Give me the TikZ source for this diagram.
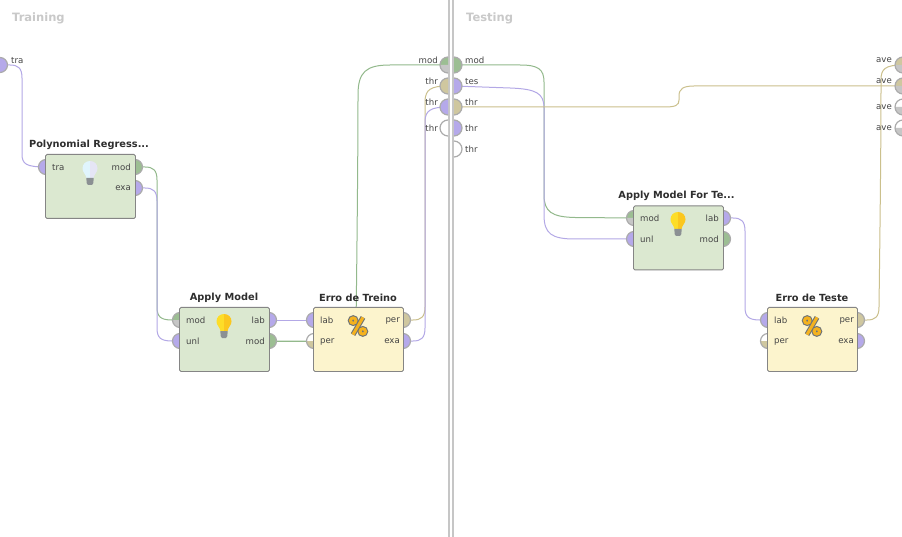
\documentclass[tikz,border=0pt]{standalone}
\usepackage{fontspec}
\setmainfont{DejaVu Sans}
\usetikzlibrary{backgrounds}
\definecolor{wpurple}{HTML}{B3A8E6}
\definecolor{wgreen}{HTML}{93B98C}
\definecolor{wtan}{HTML}{CBC08C}
\definecolor{pgray}{HTML}{C6C6C6}
\definecolor{pgreen}{HTML}{9CBE93}
\definecolor{ptan}{HTML}{CFC79F}
\definecolor{ppurple}{HTML}{B5A9EA}
\definecolor{ring}{HTML}{ABABAB}
\definecolor{boxgreen}{HTML}{DBE8D0}
\definecolor{boxyellow}{HTML}{FCF4CD}
\definecolor{boxedge}{HTML}{858585}
\definecolor{txt}{HTML}{444444}
\definecolor{ttl}{HTML}{2E2E2E}
\definecolor{headgray}{HTML}{C9C9C9}
\definecolor{dark}{HTML}{6E7478}
\definecolor{orng}{HTML}{F5B21E}
\tikzset{
  opbox/.style={draw=boxedge,line width=0.9pt,rounded corners=1.5pt,minimum width=90pt,minimum height=64pt,inner sep=0pt,anchor=north west},
  greenbox/.style={opbox,fill=boxgreen},
  yellowbox/.style={opbox,fill=boxyellow},
  title/.style={font=\bfseries\fontsize{9.8}{11}\selectfont,text=ttl,inner sep=0pt,anchor=center},
  plabel/.style={font=\fontsize{8.6}{10}\selectfont,text=txt,inner sep=0pt},
  lab w/.style={plabel,anchor=west},
  lab e/.style={plabel,anchor=east},
  head/.style={font=\bfseries\fontsize{11.5}{13}\selectfont,text=headgray,inner sep=0pt,anchor=west},
  wire/.style={line width=1pt},
  divider/.style={draw=pgray,line width=2pt}
}
% name, x, y, top colour, bottom colour, side (1 bulges left, -1 bulges right), radius
\newcommand{\portshape}[7]{%
  \begin{scope}[shift={(#2,#3)},xscale=#6]
    \fill[#4] (0,0) -- (0,-#7) .. controls (-0.55*#7,-#7) and (-#7,-0.55*#7) .. (-#7,0) -- cycle;
    \fill[#5] (0,0) -- (0,#7) .. controls (-0.55*#7,#7) and (-#7,0.55*#7) .. (-#7,0) -- cycle;
    \draw[ring,line width=1.2pt] (0,-#7) .. controls (-0.55*#7,-#7) and (-#7,-0.55*#7) .. (-#7,0) .. controls (-#7,0.55*#7) and (-0.55*#7,#7) .. (0,#7);
    \coordinate (#1) at (0,0);
  \end{scope}}
\newcommand{\bulb}[5]{% x, top y, left, right, stem
  \begin{scope}[shift={(#1,#2)}]
    \fill[#3] (0,0) .. controls (-4.5,0) and (-7.5,3.2) .. (-7.5,7.5) .. controls (-7.5,11.5) and (-4,13) .. (-3.6,17) -- (0,17) -- cycle;
    \fill[#4] (0,0) .. controls (4.5,0) and (7.5,3.2) .. (7.5,7.5) .. controls (7.5,11.5) and (4,13) .. (3.6,17) -- (0,17) -- cycle;
    \fill[#5] (-3.6,17) -- (3.6,17) -- (3.4,22) -- (2,24) -- (-2,24) -- (-3.4,22) -- cycle;
  \end{scope}}
\newcommand{\percent}[2]{%
  \begin{scope}[shift={(#1,#2)}]
    \foreach \w/\c in {5.2/dark,3/orng}{
      \draw[\c,line width=\w pt] (-4.8,-5.4) circle[radius=2.7];
      \draw[\c,line width=\w pt] (4.8,5.4) circle[radius=2.7];
      \draw[\c,line width=\w pt] (5,-8.6) -- (-5,8.6);
    }
  \end{scope}}
\begin{document}
\begin{tikzpicture}[x=1pt,y=-1pt]
\useasboundingbox (0,0) rectangle (902,537);
\begin{scope}[on background layer]
\fill[white] (0,0) rectangle (902,537);
\end{scope}
% dividers
\draw[divider] (449,0) -- (449,537);
\draw[divider] (453,0) -- (453,537);
\node[head] (training) at (12,18) {Training};
\node[head] (testing) at (466,18) {Testing};
% panel ports
\portshape{intra}{0}{65}{ppurple}{ppurple}{-1}{7.5}
\portshape{lmod}{448}{65}{pgreen}{pgray}{1}{8}
\portshape{lthra}{448}{86}{ptan}{ptan}{1}{8}
\portshape{lthrb}{448}{107}{ppurple}{ppurple}{1}{8}
\portshape{lthrc}{448}{128}{white}{white}{1}{8}
\portshape{rmod}{454}{65}{pgreen}{pgreen}{-1}{8}
\portshape{rtes}{454}{86}{ppurple}{ppurple}{-1}{8}
\portshape{rthra}{454}{107}{ptan}{ptan}{-1}{8}
\portshape{rthrb}{454}{128}{ppurple}{ppurple}{-1}{8}
\portshape{rthrc}{454}{149}{white}{white}{-1}{8}
\portshape{avea}{903}{65}{ptan}{pgray}{1}{8}
\portshape{aveb}{903}{86}{ptan}{pgray}{1}{8}
\portshape{avec}{903}{107}{white}{pgray}{1}{8}
\portshape{aved}{903}{128}{white}{pgray}{1}{8}
% operator ports
\portshape{ptra}{46}{167}{ppurple}{ppurple}{1}{7.5}
\portshape{pmod}{135}{167}{pgreen}{pgreen}{-1}{7.5}
\portshape{pexa}{135}{188}{ppurple}{ppurple}{-1}{7.5}
\portshape{amod}{180}{320}{pgreen}{pgray}{1}{7.5}
\portshape{aunl}{180}{341}{ppurple}{ppurple}{1}{7.5}
\portshape{alab}{269}{320}{ppurple}{ppurple}{-1}{7.5}
\portshape{aout}{269}{341}{pgreen}{pgreen}{-1}{7.5}
\portshape{elab}{314}{320}{ppurple}{ppurple}{1}{7.5}
\portshape{eper}{314}{341}{white}{ptan}{1}{7.5}
\portshape{eout}{403}{320}{ptan}{ptan}{-1}{7.5}
\portshape{eexa}{403}{341}{ppurple}{ppurple}{-1}{7.5}
\portshape{tmod}{634}{218}{pgreen}{pgray}{1}{7.5}
\portshape{tunl}{634}{239}{ppurple}{ppurple}{1}{7.5}
\portshape{tlab}{723}{218}{ppurple}{ppurple}{-1}{7.5}
\portshape{tout}{723}{239}{pgreen}{pgreen}{-1}{7.5}
\portshape{xlab}{768}{320}{ppurple}{ppurple}{1}{7.5}
\portshape{xper}{768}{341}{white}{ptan}{1}{7.5}
\portshape{xout}{857}{320}{ptan}{ptan}{-1}{7.5}
\portshape{xexa}{857}{341}{ppurple}{ppurple}{-1}{7.5}
% operators
\node[greenbox] (poly) at (45,154) {};
\node[greenbox] (apply) at (179,307) {};
\node[yellowbox] (trein) at (313,307) {};
\node[greenbox] (applyt) at (633,205.5) {};
\node[yellowbox] (teste) at (767,307) {};
\node[title] (tpoly) at (89,144.6) {Polynomial Regress...};
\node[title] (tapply) at (224,297.6) {Apply Model};
\node[title] (ttrein) at (358,297.6) {Erro de Treino};
\node[title] (tapplyt) at (676.5,195.6) {Apply Model For Te...};
\node[title] (tteste) at (812,297.6) {Erro de Teste};
\bulb{90}{161}{cyan!12!white}{cyan!28!blue!10!white}{dark!80}
\bulb{224}{314}{yellow!75!orange!85!white}{yellow!55!orange!90!white}{dark!80}
\bulb{678}{212}{yellow!75!orange!85!white}{yellow!55!orange!90!white}{dark!80}
\percent{358}{326}
\percent{812}{326}
% port labels
\node[lab w] (n1) at (52,167.5) {tra};
\node[lab e] (n2) at (131,167.5) {mod};
\node[lab e] (n3) at (131,188.5) {exa};
\node[lab w] (n4) at (186,320.5) {mod};
\node[lab w] (n5) at (186,341.5) {unl};
\node[lab e] (n6) at (265,320.5) {lab};
\node[lab e] (n7) at (265,341.5) {mod};
\node[lab w] (n8) at (320,320.5) {lab};
\node[lab w] (n9) at (320,341.5) {per};
\node[lab e] (n10) at (400,320.5) {per};
\node[lab e] (n11) at (400,341.5) {exa};
\node[lab w] (n12) at (640,218.5) {mod};
\node[lab w] (n13) at (640,239.5) {unl};
\node[lab e] (n14) at (719,218.5) {lab};
\node[lab e] (n15) at (719,239.5) {mod};
\node[lab w] (n16) at (774,320.5) {lab};
\node[lab w] (n17) at (774,341.5) {per};
\node[lab e] (n18) at (854,320.5) {per};
\node[lab e] (n19) at (854,341.5) {exa};
\node[lab w] (n20) at (11,60.5) {tra};
\node[lab e] (n21) at (438,60.5) {mod};
\node[lab e] (n22) at (438,81.5) {thr};
\node[lab e] (n23) at (438,102.5) {thr};
\node[lab e] (n24) at (438,128.5) {thr};
\node[lab w] (n25) at (465,60.5) {mod};
\node[lab w] (n26) at (465,81.5) {tes};
\node[lab w] (n27) at (465,102.5) {thr};
\node[lab w] (n28) at (465,128.5) {thr};
\node[lab w] (n29) at (465,149.5) {thr};
\node[lab e] (n30) at (892,60.5) {ave};
\node[lab e] (n31) at (892,81.5) {ave};
\node[lab e] (n32) at (892,107.5) {ave};
\node[lab e] (n33) at (892,128.5) {ave};
% connectors
\begin{scope}[on background layer]
\draw[wire,wpurple] (intra) -- (10,65) .. controls (18,65) and (22,68) .. (22,78) -- (22,154) .. controls (22,164) and (26,167) .. (ptra);
\draw[wire,wgreen] (pmod) -- (145,167) .. controls (153,167) and (157,170) .. (157,180) -- (157,307) .. controls (157,317) and (161,320) .. (172,320) -- (amod);
\draw[wire,wpurple] (pexa) -- (145,188) .. controls (153,188) and (157,191) .. (157,201) -- (157,328) .. controls (157,338) and (161,341) .. (172,341) -- (aunl);
\draw[wire,wpurple] (alab) -- (elab);
\draw[wire,wgreen] (aout) -- (eper);
\draw[wire,wgreen] (aout) -- (340,341) .. controls (352,341) and (356,338) .. (356,325) .. controls (357,250) and (358,150) .. (358,95) .. controls (358,72) and (366,65) .. (390,65) -- (lmod);
\draw[wire,wtan] (eout) -- (413,320) .. controls (421,320) and (425,317) .. (425,307) -- (425,100) .. controls (426,90) and (430,86) .. (lthra);
\draw[wire,wpurple] (eexa) -- (413,341) .. controls (421,341) and (425,338) .. (425,328) -- (425,120) .. controls (426,111) and (430,107) .. (lthrb);
\draw[wire,wgreen] (rmod) -- (520,65) .. controls (538,65) and (544,69) .. (544,82) -- (544,195) .. controls (544,212) and (552,217) .. (575,217.5) -- (tmod);
\draw[wire,wpurple] (rtes) -- (510,88) .. controls (536,89) and (544,93) .. (544,108) -- (544,215) .. controls (544,234) and (552,239) .. (575,239) -- (tunl);
\draw[wire,wtan] (rthra) -- (665,107) .. controls (676,107) and (679,105) .. (679,100) -- (679,96) .. controls (679,89) and (683,86) .. (694,86) -- (aveb);
\draw[wire,wpurple] (tlab) -- (733,218) .. controls (741,218) and (745,221) .. (745,231) -- (745,307) .. controls (745,317) and (749,320) .. (760,320) -- (xlab);
\draw[wire,wtan] (xout) -- (867,320) .. controls (875,320) and (879,317) .. (879,307) .. controls (880,230) and (881,150) .. (881,80) .. controls (881,69) and (885,65) .. (avea);
\end{scope}
\end{tikzpicture}
\end{document}
